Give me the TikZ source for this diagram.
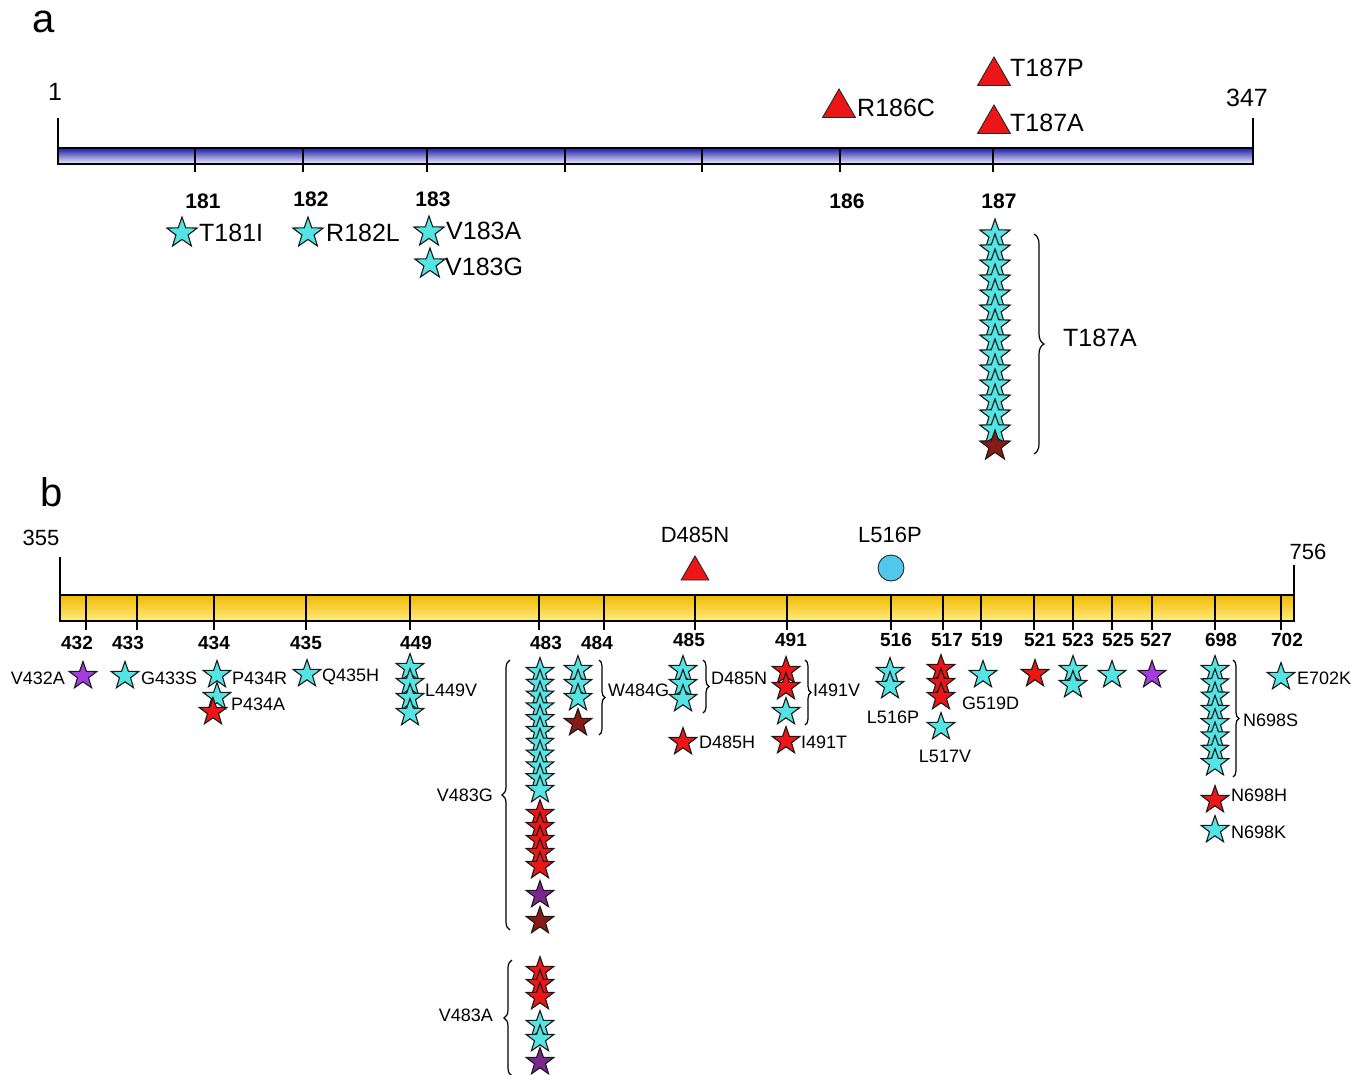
\documentclass[tikz,border=0pt]{standalone}
\usepackage{fontspec}
\setmainfont{Liberation Sans}
\usetikzlibrary{shapes.geometric,decorations.pathreplacing}
\definecolor{cy}{RGB}{85,228,228}
\definecolor{rd}{RGB}{236,22,22}
\definecolor{dr}{RGB}{135,28,22}
\definecolor{pu}{RGB}{165,60,225}
\definecolor{pd}{RGB}{122,38,140}
\definecolor{circ}{RGB}{80,200,235}
\tikzset{
 mstar/.style={star,star points=5,star point ratio=2.5,draw=black!90,line width=1.1pt,inner sep=0pt,minimum size=29pt,fill=#1},
 astar/.style={mstar=#1,minimum size=32pt},
 tri/.style={regular polygon,regular polygon sides=3,draw=black!85,line width=0.9pt,fill=rd,inner sep=0pt,minimum size=#1},
 la/.style={font=\fontsize{25}{28}\selectfont,inner sep=0pt},
 numa/.style={font=\bfseries\fontsize{21}{23}\selectfont,inner sep=0pt},
 lb/.style={font=\fontsize{18}{20}\selectfont,inner sep=0pt},
 lbt/.style={font=\fontsize{22}{24}\selectfont,inner sep=0pt},
 numb/.style={font=\bfseries\fontsize{19}{21}\selectfont,inner sep=0pt},
 panel/.style={font=\fontsize{40}{44}\selectfont,inner sep=0pt},
 mybrace/.style={decorate,decoration={brace,amplitude=#1},line width=1.2pt},
 axl/.style={line width=1.2pt},
}
\begin{document}
\begin{tikzpicture}[x=1pt,y=-1pt]
\useasboundingbox (0,0) rectangle (1355,1074);
% ---------------- panel a ----------------
\node[panel] (pa) at (44,22) {a};
\shade[top color={rgb,255:red,30;green,30;blue,165},middle color={rgb,255:red,120;green,120;blue,240},bottom color={rgb,255:red,240;green,240;blue,255}] (58,148) rectangle (1253,164);
\draw[axl] (58,148) rectangle (1253,164);
\draw[axl] (58,118) -- (58,164);
\draw[axl] (1253,118) -- (1253,164);
\node[la] (a1) at (55,92) {1};
\node[la] (a347) at (1247,98) {347};
\foreach \x in {195,303,427,565,702,840,993} \draw[axl] (\x,148) -- (\x,172);
\node[numa] (n181) at (203,201) {181};
\node[numa] (n182) at (311,199) {182};
\node[numa] (n183) at (433,199) {183};
\node[numa] (n186) at (847,201) {186};
\node[numa] (n187) at (999,201) {187};
\node[astar=cy] (sT181) at (182,233) {};
\node[la,anchor=west] (tT181) at (199,233) {T181I};
\node[astar=cy] (sR182) at (308,233) {};
\node[la,anchor=west] (tR182) at (326,233) {R182L};
\node[astar=cy] (sV183A) at (429,232) {};
\node[la,anchor=west] (tV183A) at (446,231) {V183A};
\node[astar=cy] (sV183G) at (430,264) {};
\node[la,anchor=west] (tV183G) at (445,267) {V183G};
\node[tri=38pt] (rR186) at (839,108) {};
\node[la,anchor=west] (tR186) at (857,108) {R186C};
\node[tri=38pt] (rT187P) at (994,76) {};
\node[la,anchor=west] (tT187P) at (1010,68) {T187P};
\node[tri=38pt] (rT187A) at (994,124) {};
\node[la,anchor=west] (tT187A) at (1010,123) {T187A};
\foreach \i in {0,...,13} \node[astar=cy] (c187-\i) at (995,{235+\i*15}) {};
\node[astar=dr] (c187-14) at (995,446) {};
\draw[mybrace=10pt] (1034,234) -- (1034,454);
\node[la,anchor=west] (tbrace) at (1063,338) {T187A};
% ---------------- panel b ----------------
\node[panel] (pb) at (52,492) {b};
\shade[top color={rgb,255:red,240;green,185;blue,0},middle color={rgb,255:red,255;green,218;blue,60},bottom color={rgb,255:red,255;green,236;blue,130}] (60,595) rectangle (1294,621);
\draw[axl] (60,595) rectangle (1294,621);
\draw[axl] (60,557) -- (60,621);
\draw[axl] (1294,565) -- (1294,621);
\node[lbt] (b355) at (41,538) {355};
\node[lbt] (b756) at (1308,552) {756};
\foreach \x in {86,137,214,306,410,539,604,695,787,891,943,981,1034,1073,1112,1152,1215,1281} \draw[axl] (\x,595) -- (\x,630);
\foreach \t/\x/\y in {432/77/643,433/128/643,434/214/643,435/306/643,449/416/643,483/546/643,484/597/643,485/689/640,491/791/640,516/896/640,517/947/640,519/987/640,521/1040/640,523/1078/640,525/1118/640,527/1156/640,698/1221/640,702/1287/640}
  \node[numb] (nb\t) at (\x,\y) {\t};
\node[lbt] (tD485N) at (695,535) {D485N};
\node[tri=32pt] (rD485N) at (695,572) {};
\node[lbt] (tL516P) at (890,535) {L516P};
\node[circle,draw=black!85,line width=0.9pt,fill=circ,minimum size=26pt,inner sep=0pt] (cL516P) at (891,568) {};
% 432-435
\node[mstar=pu] (s432) at (83,676) {};
\node[lb,anchor=east] (tV432A) at (65,678) {V432A};
\node[mstar=cy] (s433) at (125,676) {};
\node[lb,anchor=west] (tG433S) at (141,678) {G433S};
\node[mstar=cy] (s434a) at (217,675) {};
\node[lb,anchor=west] (tP434R) at (232,678) {P434R};
\node[mstar=cy] (s434b) at (217,697) {};
\node[mstar=rd] (s434c) at (213,712) {};
\node[lb,anchor=west] (tP434A) at (231,704) {P434A};
\node[mstar=cy] (s435) at (307,674) {};
\node[lb,anchor=west] (tQ435H) at (322,677) {Q435H};
% 449
\foreach \y [count=\i] in {668,683,698,713} \node[mstar=cy] (s449-\i) at (410,\y) {};
\node[lb,anchor=west] (tL449V) at (425,690) {L449V};
% 483
\foreach \i in {0,...,10} \node[mstar=cy] (s483c-\i) at (540,{672+\i*11.8}) {};
\foreach \y [count=\i] in {814,827,840,853,866} \node[mstar=rd] (s483r-\i) at (540,\y) {};
\node[mstar=pd] (s483p) at (540,895) {};
\node[mstar=dr] (s483d) at (540,921) {};
\draw[mybrace=8pt] (510,930) -- (510,660);
\node[lb,anchor=east] (tV483G) at (493,795) {V483G};
\foreach \y [count=\i] in {971,984,997} \node[mstar=rd] (s483ar-\i) at (540,\y) {};
\foreach \y [count=\i] in {1025,1039} \node[mstar=cy] (s483ac-\i) at (540,\y) {};
\node[mstar=pd] (s483ap) at (540,1062) {};
\draw[mybrace=8pt] (512,1076) -- (512,960);
\node[lb,anchor=east] (tV483A) at (493,1015) {V483A};
% 484
\foreach \y [count=\i] in {670,684,698} \node[mstar=cy] (s484-\i) at (578,\y) {};
\node[mstar=dr] (s484d) at (578,723) {};
\draw[mybrace=6pt] (599,660) -- (599,735);
\node[lb,anchor=west] (tW484G) at (608,690) {W484G};
% 485
\foreach \y [count=\i] in {670,684,699} \node[mstar=cy] (s485-\i) at (683,\y) {};
\draw[mybrace=6pt] (703,660) -- (703,713);
\node[lb,anchor=west] (tD485Nb) at (711,678) {D485N};
\node[mstar=rd] (s485h) at (683,742) {};
\node[lb,anchor=west] (tD485H) at (699,742) {D485H};
% 491
\node[mstar=rd] (s491-1) at (786,671) {};
\node[mstar=rd] (s491-2) at (786,687) {};
\node[mstar=cy] (s491-3) at (786,712) {};
\draw[mybrace=6pt] (805,660) -- (805,725);
\node[lb,anchor=west] (tI491V) at (813,690) {I491V};
\node[mstar=rd] (s491t) at (786,741) {};
\node[lb,anchor=west] (tI491T) at (801,742) {I491T};
% 516-527
\node[mstar=cy] (s516-1) at (890,672) {};
\node[mstar=cy] (s516-2) at (890,686) {};
\node[lb] (tL516Pb) at (893,717) {L516P};
\foreach \y [count=\i] in {669,683,697} \node[mstar=rd] (s517-\i) at (941,\y) {};
\node[mstar=cy] (s517c) at (941,727) {};
\node[lb] (tL517V) at (945,756) {L517V};
\node[lb,anchor=west] (tG519D) at (962,703) {G519D};
\node[mstar=cy] (s519) at (983,675) {};
\node[mstar=rd] (s521) at (1035,674) {};
\node[mstar=cy] (s523-1) at (1073,670) {};
\node[mstar=cy] (s523-2) at (1073,685) {};
\node[mstar=cy] (s525) at (1112,675) {};
\node[mstar=pu] (s527) at (1152,675) {};
% 698
\foreach \i in {0,...,7} \node[mstar=cy] (s698-\i) at (1215,{670+\i*13.3}) {};
\draw[mybrace=6pt] (1233,660) -- (1233,777);
\node[lb,anchor=west] (tN698S) at (1243,720) {N698S};
\node[mstar=rd] (s698h) at (1215,800) {};
\node[lb,anchor=west] (tN698H) at (1231,795) {N698H};
\node[mstar=cy] (s698k) at (1215,830) {};
\node[lb,anchor=west] (tN698K) at (1231,832) {N698K};
% 702
\node[mstar=cy] (s702) at (1281,677) {};
\node[lb,anchor=west] (tE702K) at (1297,678) {E702K};
\end{tikzpicture}
\end{document}
